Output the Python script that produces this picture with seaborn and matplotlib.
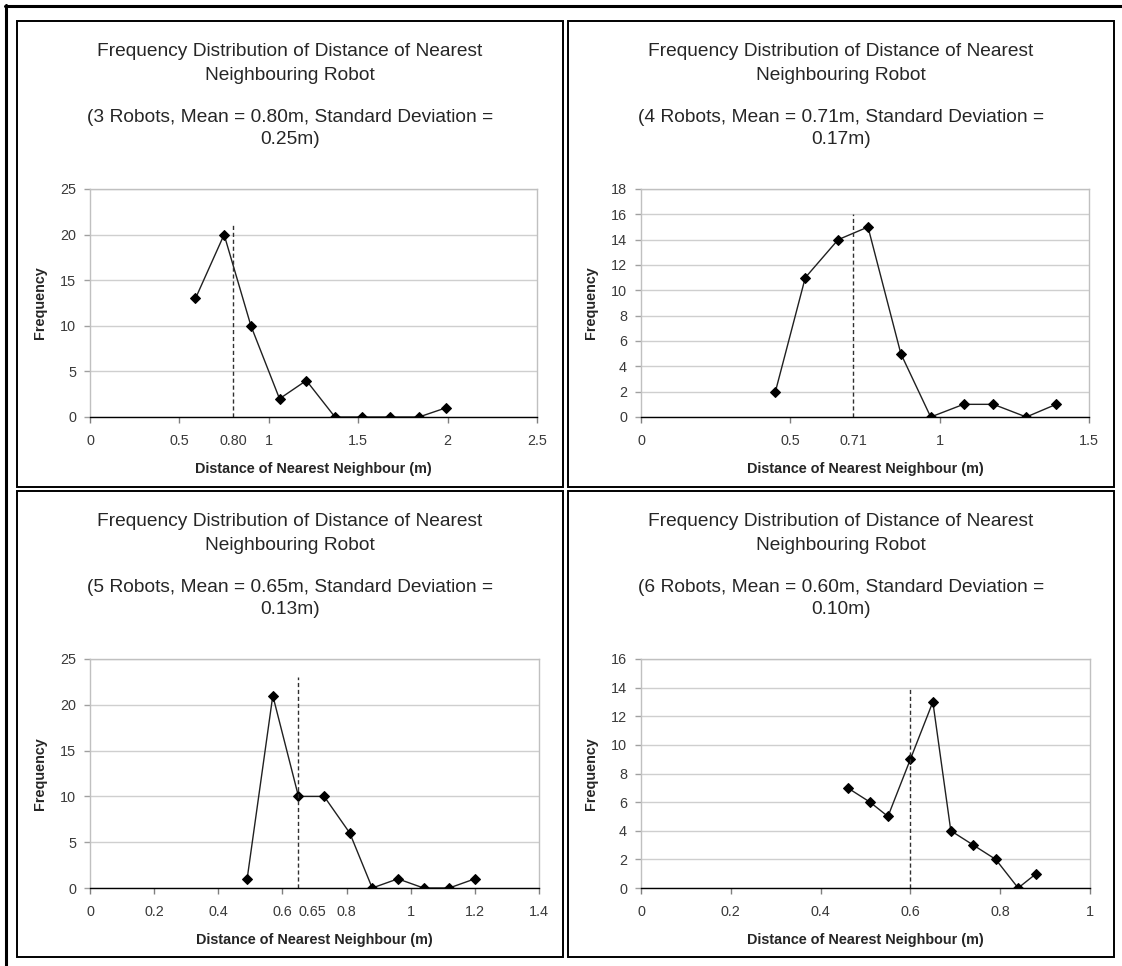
import numpy as np
import matplotlib
matplotlib.use("Agg")
import matplotlib.pyplot as plt
import seaborn as sns
from matplotlib.patches import Rectangle
from matplotlib.lines import Line2D

# measured distances (m) and counts for each robot group
robots = [3, 4, 5, 6]
means = [0.80, 0.71, 0.65, 0.60]
stds = [0.25, 0.17, 0.13, 0.10]

dist_3 = [0.59, 0.75, 0.90, 1.06, 1.21, 1.37, 1.52, 1.68, 1.84, 1.99]
freq_3 = [13, 20, 10, 2, 4, 0, 0, 0, 0, 1]
dist_4 = [0.45, 0.55, 0.66, 0.76, 0.87, 0.97, 1.08, 1.18, 1.29, 1.39]
freq_4 = [2, 11, 14, 15, 5, 0, 1, 1, 0, 1]
dist_5 = [0.49, 0.57, 0.65, 0.73, 0.81, 0.88, 0.96, 1.04, 1.12, 1.20]
freq_5 = [1, 21, 10, 10, 6, 0, 1, 0, 0, 1]
dist_6 = [0.46, 0.51, 0.55, 0.60, 0.65, 0.69, 0.74, 0.79, 0.84, 0.88]
freq_6 = [7, 6, 5, 9, 13, 4, 3, 2, 0, 1]

mean_line_top = [21, 16, 23, 14]

xticks_all = [[0, 0.5, 1, 1.5, 2, 2.5],
              [0, 0.5, 1, 1.5],
              [0, 0.2, 0.4, 0.6, 0.8, 1, 1.2, 1.4],
              [0, 0.2, 0.4, 0.6, 0.8, 1]]
yticks_all = [[0, 5, 10, 15, 20, 25],
              [0, 2, 4, 6, 8, 10, 12, 14, 16, 18],
              [0, 5, 10, 15, 20, 25],
              [0, 2, 4, 6, 8, 10, 12, 14, 16]]

dists = [dist_3, dist_4, dist_5, dist_6]
freqs = [freq_3, freq_4, freq_5, freq_6]

sns.set_style("white")
plt.rcParams["font.family"] = ["Liberation Sans", "DejaVu Sans"]

W, H = 1122, 966
fig = plt.figure(figsize=(W / 100, H / 100), dpi=100)

def fx(px):
    return px / W

def fy(py):
    return 1 - py / H

TITLE_FS = 13.8
TICK_FS = 10.4
LABEL_FS = 10.4

# outer frame (left + top only, the rest is cropped)
fig.add_artist(Line2D([fx(6), fx(6)], [fy(5), 0], color="black", lw=2.2))
fig.add_artist(Line2D([fx(5), 1], [fy(6), fy(6)], color="black", lw=2.2))

boxes = [(17, 21, 563, 487), (568, 21, 1114, 487),
         (17, 491, 563, 957), (568, 491, 1114, 957)]
axes_px = [(90, 189, 537, 417), (641, 189, 1089, 417),
           (90, 659, 539, 888), (641, 659, 1090, 888)]
mean_label_shift = [0, 0, 10, 0]  # points, the 0.65 label sits right of the line

for i in range(4):
    x0, y0, x1, y1 = boxes[i]
    fig.add_artist(Rectangle((fx(x0), fy(y1)), fx(x1 - x0), (y1 - y0) / H,
                             fill=False, ec="black", lw=1.4))
    cx = fx((x0 + x1) / 2)
    fig.text(cx, fy(y0 + 31), "Frequency Distribution of Distance of Nearest",
             ha="center", va="center", fontsize=TITLE_FS)
    fig.text(cx, fy(y0 + 55), "Neighbouring Robot",
             ha="center", va="center", fontsize=TITLE_FS)
    fig.text(cx, fy(y0 + 96),
             f"({robots[i]} Robots, Mean = {means[i]:.2f}m, Standard Deviation =",
             ha="center", va="center", fontsize=TITLE_FS)
    fig.text(cx, fy(y0 + 118), f"{stds[i]:.2f}m)",
             ha="center", va="center", fontsize=TITLE_FS)

    ax0, ay0, ax1, ay1 = axes_px[i]
    ax = fig.add_axes([fx(ax0), fy(ay1), fx(ax1 - ax0), (ay1 - ay0) / H])
    sns.lineplot(x=dists[i], y=freqs[i], ax=ax, color="#202020", lw=1,
                 marker="D", markersize=5, markerfacecolor="black",
                 markeredgecolor="black", sort=False)
    ax.vlines(means[i], 0, mean_line_top[i], colors="#303030",
              linestyles=(0, (3, 2)), lw=1)

    xt, yt = xticks_all[i], yticks_all[i]
    ax.set_xlim(xt[0], xt[-1])
    ax.set_ylim(yt[0], yt[-1])
    ax.set_xticks(xt)
    ax.set_xticklabels([f"{v:g}" for v in xt])
    ax.set_yticks(yt)
    ax.set_yticklabels([f"{v:g}" for v in yt])
    ax.yaxis.grid(True, color="#cfcfcf", lw=1)
    ax.set_axisbelow(True)
    for s in ["left", "top", "right"]:
        ax.spines[s].set_color("#c0c0c0")
        ax.spines[s].set_linewidth(1)
    ax.spines["bottom"].set_color("black")
    ax.spines["bottom"].set_linewidth(1)
    ax.tick_params(axis="both", direction="out", length=4, width=1,
                   labelsize=TICK_FS, labelcolor="#3a3a3a")
    ax.tick_params(axis="y", color="#a0a0a0", left=True, pad=6)
    ax.tick_params(axis="x", color="#808080", bottom=True, pad=8)

    if not any(abs(means[i] - v) < 1e-9 for v in xt):
        ax.annotate(f"{means[i]:.2f}", xy=(means[i], 0),
                    xycoords=ax.get_xaxis_transform(),
                    xytext=(mean_label_shift[i], -12),
                    textcoords="offset points", ha="center", va="top",
                    fontsize=TICK_FS, color="#3a3a3a")

    ax.set_xlabel("Distance of Nearest Neighbour (m)", fontsize=LABEL_FS,
                  fontweight="bold", labelpad=10)
    ax.set_ylabel("Frequency", fontsize=LABEL_FS, fontweight="bold", labelpad=9)

fig.savefig("out.png", dpi=100)
